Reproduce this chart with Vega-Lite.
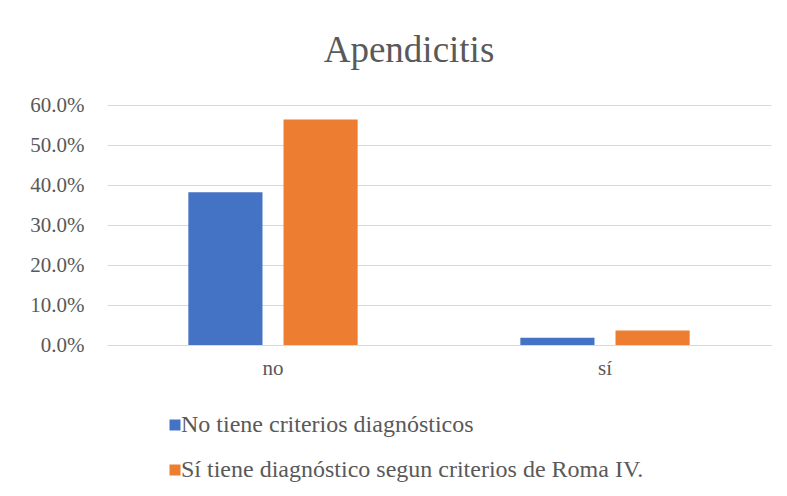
{
  "$schema": "https://vega.github.io/schema/vega-lite/v6.json",
  "width": 664,
  "height": 240,
  "autosize": {"type": "none"},
  "padding": {"left": 107, "top": 105, "right": 16, "bottom": 151},
  "background": "white",
  "title": {
    "text": "Apendicitis",
    "font": "Liberation Serif",
    "fontSize": 37,
    "fontWeight": "normal",
    "color": "#595959",
    "anchor": "middle",
    "frame": "group",
    "dx": -30,
    "offset": 24
  },
  "data": {
    "values": [
      {"cat": "no", "grupo": "No tiene criterios diagnósticos", "valor": 0.382},
      {"cat": "no", "grupo": "Sí tiene diagnóstico segun criterios de Roma IV.", "valor": 0.564},
      {"cat": "sí", "grupo": "No tiene criterios diagnósticos", "valor": 0.018},
      {"cat": "sí", "grupo": "Sí tiene diagnóstico segun criterios de Roma IV.", "valor": 0.036}
    ]
  },
  "mark": {"type": "bar"},
  "encoding": {
    "x": {
      "field": "cat",
      "type": "nominal",
      "sort": ["no", "sí"],
      "scale": {"paddingInner": 0.49, "paddingOuter": 0.245},
      "axis": {
        "title": null,
        "labelAngle": 0,
        "labelFont": "Liberation Serif",
        "labelFontSize": 21,
        "labelColor": "#595959",
        "labelPadding": 12,
        "ticks": false,
        "domainColor": "#d9d9d9",
        "domainWidth": 1
      }
    },
    "xOffset": {
      "field": "grupo",
      "type": "nominal",
      "sort": ["No tiene criterios diagnósticos", "Sí tiene diagnóstico segun criterios de Roma IV."],
      "scale": {"paddingInner": 0.221, "paddingOuter": 0}
    },
    "y": {
      "field": "valor",
      "type": "quantitative",
      "scale": {"domain": [0, 0.6], "nice": false},
      "axis": {
        "title": null,
        "format": ".1%",
        "values": [0, 0.1, 0.2, 0.3, 0.4, 0.5, 0.6],
        "labelOverlap": false,
        "labelFont": "Liberation Serif",
        "labelFontSize": 21,
        "labelColor": "#595959",
        "labelPadding": 23,
        "ticks": false,
        "domain": false,
        "gridColor": "#d9d9d9",
        "gridWidth": 1
      }
    },
    "color": {
      "field": "grupo",
      "type": "nominal",
      "sort": ["No tiene criterios diagnósticos", "Sí tiene diagnóstico segun criterios de Roma IV."],
      "scale": {
        "domain": ["No tiene criterios diagnósticos", "Sí tiene diagnóstico segun criterios de Roma IV."],
        "range": ["#4472C4", "#ED7D31"]
      },
      "legend": {
        "title": null,
        "orient": "none",
        "direction": "vertical",
        "legendX": 56,
        "legendY": 308,
        "padding": 0,
        "symbolType": "square",
        "symbolSize": 121,
        "symbolStrokeWidth": 0,
        "labelFont": "Liberation Serif",
        "labelFontSize": 24,
        "labelColor": "#595959",
        "labelOffset": -6,
        "rowPadding": 21,
        "labelLimit": 700
      }
    }
  },
  "config": {
    "view": {"stroke": null}
  }
}
